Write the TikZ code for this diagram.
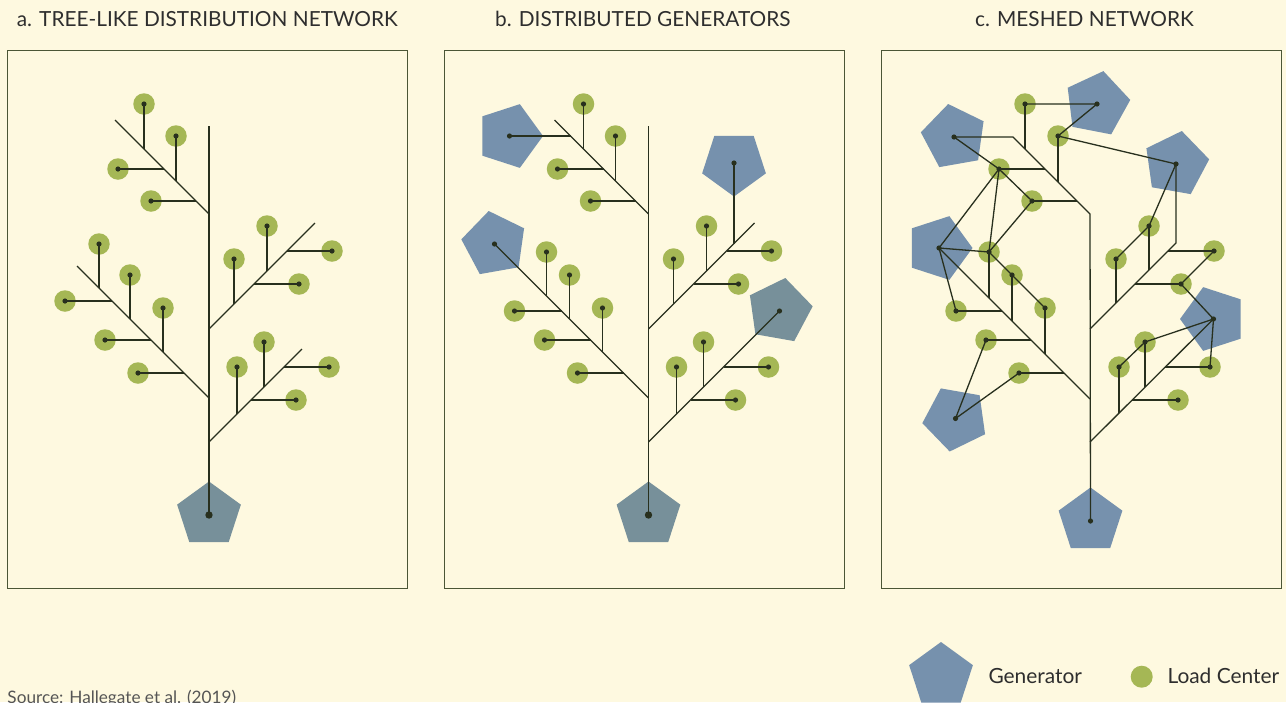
\documentclass[tikz,border=0pt]{standalone}
\usepackage{fontspec}
\setmainfont{Lato}
\usetikzlibrary{shapes.geometric}
\pgfdeclarelayer{paperlayer}
\pgfdeclarelayer{back}
\pgfdeclarelayer{front}
\pgfsetlayers{paperlayer,back,main,front}
\definecolor{paper}{HTML}{FEF9E0}
\definecolor{frameline}{HTML}{4B5636}
\definecolor{wirecol}{HTML}{28301E}
\definecolor{loadgreen}{HTML}{A5B755}
\definecolor{genblue}{HTML}{7691AD}
\definecolor{genteal}{HTML}{77909A}
\definecolor{ink}{HTML}{2E2E2E}
\definecolor{softink}{HTML}{555555}
\tikzset{
  panel/.style={draw=frameline, line width=1pt},
  gen/.style={regular polygon, regular polygon sides=5, minimum size=67pt,
              inner sep=0pt, outer sep=0pt, fill=genblue, draw=none},
  load/.style={circle, minimum size=21.5pt, inner sep=0pt, fill=loadgreen, draw=none},
  wire/.style={draw=wirecol, line width=1.3pt},
  title/.style={anchor=base west, text=ink, font=\fontsize{20.8}{24}\selectfont, inner sep=0pt},
  legendtext/.style={anchor=base west, text=ink, font=\fontsize{20.9}{24}\selectfont, inner sep=0pt},
}
\newcommand\hub[1]{\begin{pgfonlayer}{front}\fill[wirecol] (#1.center) circle[radius=2.6pt];\end{pgfonlayer}}
\newcommand\bighub[1]{\begin{pgfonlayer}{front}\fill[wirecol] (#1.center) circle[radius=3.7pt];\end{pgfonlayer}}
% load centre with its stem down (or across) to a feeder branch
\newcommand\tap[5]{%
  \begin{pgfonlayer}{back}\node[load] (#1) at (#2,#3) {};\end{pgfonlayer}
  \coordinate (#1s) at (#4,#5);
  \draw[wire] (#1.center) -- (#1s);
  \hub{#1}}
\begin{document}
\begin{tikzpicture}[x=1pt,y=-1pt]
\useasboundingbox (0,0) rectangle (1286,702);
\begin{pgfonlayer}{paperlayer}
  \fill[paper] (0,0) rectangle (1286,702);
\end{pgfonlayer}

% ---------- titles ----------
\node[title] (ta) at (16.7,26) {a. TREE-LIKE DISTRIBUTION NETWORK};
\node[title] (tb) at (495,26) {b. DISTRIBUTED GENERATORS};
\node[title] (tc) at (975,26) {c. MESHED NETWORK};

% ---------- frames ----------
\draw[panel] (7,50) rectangle (407,588);
\draw[panel] (444,50) rectangle (844,588);
\draw[panel] (881,50) rectangle (1281,588);

% ---------- a: radial tree fed from one plant ----------
\begin{pgfonlayer}{back}
  \node[gen, fill=genteal] (aG) at (209,515) {};
\end{pgfonlayer}
\coordinate (aT) at (209,126);
\coordinate (aJ1) at (209,214); \coordinate (aE1) at (115,120);
\coordinate (aJ2) at (209,329); \coordinate (aE2) at (315,223);
\coordinate (aJ3) at (209,398); \coordinate (aE3) at (77,266);
\coordinate (aJ4) at (209,442); \coordinate (aE4) at (302,349);
\draw[wire] (aG.center) -- (aT);
\draw[wire] (aJ1) -- (aE1);
\draw[wire] (aJ2) -- (aE2);
\draw[wire] (aJ3) -- (aE3);
\draw[wire] (aJ4) -- (aE4);
\bighub{aG}
\tap{a1}{144}{104}{144}{149}
\tap{a2}{176}{136}{176}{181}
\tap{a3}{118}{169}{164}{169}
\tap{a4}{151}{201}{196}{201}
\tap{a5}{234}{259}{234}{304}
\tap{a6}{267}{226}{267}{271}
\tap{a7}{332}{251}{287}{251}
\tap{a8}{299}{284}{254}{284}
\tap{a9}{99}{244}{99}{288}
\tap{a10}{130}{275}{130}{319}
\tap{a11}{65}{301}{112}{301}
\tap{a12}{163}{308}{163}{352}
\tap{a13}{105}{340}{151}{340}
\tap{a14}{138}{373}{184}{373}
\tap{a15}{237}{367}{237}{414}
\tap{a16}{264}{342}{264}{387}
\tap{a17}{329}{367}{284}{367}
\tap{a18}{296}{400}{251}{400}

% ---------- b: same tree with distributed generators ----------
\begin{scope}[xshift=439.5pt]
\begin{pgfonlayer}{back}
  \node[gen, fill=genteal] (bG) at (209,515) {};
  \node[gen, shape border rotate=-90] (bG1) at (70,136) {};
  \node[gen, shape border rotate=180] (bG2) at (294.5,163) {};
  \node[gen, shape border rotate=10] (bG3) at (55,244) {};
  \node[gen, fill=genteal, shape border rotate=-10] (bG4) at (340,311) {};
\end{pgfonlayer}
\coordinate (bT) at (209,126);
\coordinate (bJ1) at (209,214); \coordinate (bE1) at (115,120);
\coordinate (bJ2) at (209,329); \coordinate (bE2) at (315,223);
\coordinate (bJ3) at (209,398);
\coordinate (bJ4) at (209,442);
\coordinate (bG1s) at (131,136);
\coordinate (bG2s) at (294.5,243.5);
\draw[wire] (bG.center) -- (bT);
\draw[wire] (bJ1) -- (bE1);
\draw[wire] (bJ2) -- (bE2);
\draw[wire] (bJ3) -- (bG3.center);
\draw[wire] (bJ4) -- (bG4.center);
\draw[wire] (bG1.center) -- (bG1s);
\draw[wire] (bG2.center) -- (bG2s);
\bighub{bG}\hub{bG1}\hub{bG2}\hub{bG3}\hub{bG4}
\tap{b1}{144}{104}{144}{149}
\tap{b2}{176}{136}{176}{181}
\tap{b3}{118}{169}{164}{169}
\tap{b4}{151}{201}{196}{201}
\tap{b5}{234}{259}{234}{304}
\tap{b6}{267}{226}{267}{271}
\tap{b7}{332}{251}{287}{251}
\tap{b8}{299}{284}{254}{284}
\tap{b9}{107}{252}{107}{296}
\tap{b10}{130}{275}{130}{319}
\tap{b11}{75}{311}{122}{311}
\tap{b12}{163}{308}{163}{352}
\tap{b13}{105}{340}{151}{340}
\tap{b14}{138}{373}{184}{373}
\tap{b15}{237}{367}{237}{414}
\tap{b16}{264}{342}{264}{387}
\tap{b17}{329}{367}{284}{367}
\tap{b18}{296}{400}{251}{400}
\end{scope}

% ---------- c: meshed network ----------
\begin{pgfonlayer}{back}
  \node[gen, shape border rotate=10]  (cG1) at (954,137) {};
  \node[gen, shape border rotate=-11] (cG2) at (1097,104) {};
  \node[gen, shape border rotate=-10] (cG3) at (1176,164) {};
  \node[gen, shape border rotate=-90] (cG4) at (939,248) {};
  \node[gen, shape border rotate=26]  (cG5) at (955.5,418.5) {};
  \node[gen, shape border rotate=90]  (cG6) at (1213.5,319) {};
  \node[gen] (cG7) at (1090.5,521) {};
\end{pgfonlayer}
\coordinate (cJ1) at (1090,214); \coordinate (cK1) at (1013,137);
\coordinate (cJ2) at (1090,329); \coordinate (cK2) at (1176,243);
\coordinate (cJ3) at (1090,399);
\coordinate (cJ4) at (1090,442);
\draw[wire] (cG7.center) -- (cJ1) -- (cK1) -- (cG1.center);
\draw[wire] (cJ2) -- (cK2) -- (cG3.center);
\draw[wire] (cJ3) -- (cG4.center);
\draw[wire] (cJ4) -- (cG6.center);
\hub{cG1}\hub{cG2}\hub{cG3}\hub{cG4}\hub{cG5}\hub{cG6}\hub{cG7}
\tap{c1}{1025}{104}{1025}{149}
\tap{c2}{1058}{136}{1058}{182}
\tap{c3}{999}{169}{1045}{169}
\tap{c4}{1032}{201}{1077}{201}
\tap{c5}{989}{252}{989}{298}
\tap{c6}{1012}{275}{1012}{321}
\tap{c7}{1045}{308}{1045}{354}
\tap{c8}{956}{311}{1002}{311}
\tap{c9}{986}{340}{1031}{340}
\tap{c10}{1019}{373}{1064}{373}
\tap{c11}{1116}{259}{1116}{303}
\tap{c12}{1149}{226}{1149}{270}
\tap{c13}{1214}{251}{1168}{251}
\tap{c14}{1181}{284}{1135}{284}
\tap{c15}{1119}{367}{1119}{413}
\tap{c16}{1145}{342}{1145}{387}
\tap{c17}{1210}{367}{1165}{367}
\tap{c18}{1178}{400}{1132}{400}
% cross links between neighbouring loads and generators
\draw[wire] (cG1.center) -- (c3.center);
\draw[wire] (c1.center) -- (cG2.center) -- (c2.center) -- (cG3.center);
\draw[wire] (c3.center) -- (c4.center) -- (c5.center) -- (c3.center);
\draw[wire] (c3.center) -- (cG4.center) -- (c5.center) -- (c6.center) -- (c7.center);
\draw[wire] (cG4.center) -- (c8.center);
\draw[wire] (c9.center) -- (cG5.center) -- (c10.center);
\draw[wire] (c11.center) -- (c12.center) -- (cG3.center);
\draw[wire] (c13.center) -- (c14.center) -- (cG6.center);
\draw[wire] (c15.center) -- (c16.center) -- (cG6.center) -- (c17.center);

% ---------- legend and source ----------
\node[gen] (legG) at (941,675.5) {};
\node[load, minimum size=22pt] (legL) at (1141.7,676.7) {};
\node[legendtext] (legGt) at (988.3,683) {Generator};
\node[legendtext] (legLt) at (1167.3,683) {Load Center};
\node[anchor=base west, inner sep=0pt, text=softink, font=\fontsize{17.2}{20}\selectfont] (src) at (7.3,703) {Source: Hallegate et al. (2019)};
\end{tikzpicture}
\end{document}
